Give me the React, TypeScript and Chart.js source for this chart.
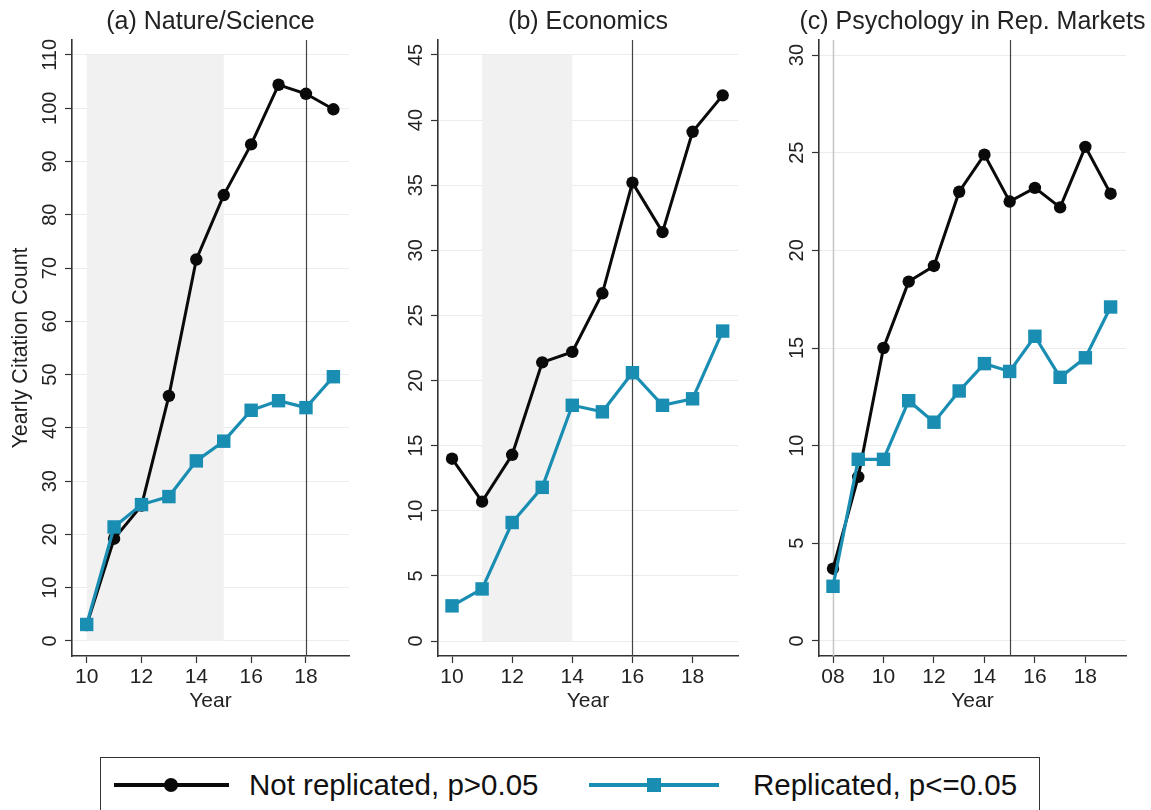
import React, { useEffect, useRef } from "react";
import { Chart, registerables } from "chart.js";

Chart.register(...registerables);

const FONT = '"Liberation Sans", Arial, Helvetica, sans-serif';
const BLACK = "#0a0a0a";
const BLUE = "#1a8db3";

// ---- Panel (a) Nature/Science ----
const yearsA = [10, 11, 12, 13, 14, 15, 16, 17, 18, 19];
const notRepA = [3.0, 19.2, 25.4, 46.0, 71.6, 83.7, 93.2, 104.4, 102.7, 99.8];
const repA = [3.1, 21.4, 25.6, 27.1, 33.8, 37.5, 43.3, 45.1, 43.8, 49.6];
const yTicksA = [0, 10, 20, 30, 40, 50, 60, 70, 80, 90, 100, 110];
const xTicksA = [10, 12, 14, 16, 18];
const xLabelsA = ["10", "12", "14", "16", "18"];

// ---- Panel (b) Economics ----
const yearsB = [10, 11, 12, 13, 14, 15, 16, 17, 18, 19];
const notRepB = [14.0, 10.7, 14.3, 21.4, 22.2, 26.7, 35.2, 31.4, 39.1, 41.9];
const repB = [2.7, 4.0, 9.1, 11.8, 18.1, 17.6, 20.6, 18.1, 18.6, 23.8];
const yTicksB = [0, 5, 10, 15, 20, 25, 30, 35, 40, 45];
const xTicksB = [10, 12, 14, 16, 18];
const xLabelsB = ["10", "12", "14", "16", "18"];

// ---- Panel (c) Psychology in Rep. Markets ----
const yearsC = [8, 9, 10, 11, 12, 13, 14, 15, 16, 17, 18, 19];
const notRepC = [3.7, 8.4, 15.0, 18.4, 19.2, 23.0, 24.9, 22.5, 23.2, 22.2, 25.3, 22.9];
const repC = [2.8, 9.3, 9.3, 12.3, 11.2, 12.8, 14.2, 13.8, 15.6, 13.5, 14.5, 17.1];
const yTicksC = [0, 5, 10, 15, 20, 25, 30];
const xTicksC = [8, 10, 12, 14, 16, 18];
const xLabelsC = ["08", "10", "12", "14", "16", "18"];

const seriesNames = ["Not replicated, p>0.05", "Replicated, p<=0.05"];

type PanelProps = {
  title: string;
  years: number[];
  notRep: number[];
  rep: number[];
  yTicks: number[];
  xTicks: number[];
  xLabels: string[];
  xMin: number;
  xMax: number;
  yMin: number;
  yMax: number;
  shade: [number, number] | null;
  vlines: { x: number; color: string; width: number }[];
  yTitle: string | null;
  left: number;
  width: number;
  axisW: number;
  padRight: number;
};

const CANVAS_H = 730;

function Panel(p: PanelProps) {
  const ref = useRef<HTMLCanvasElement | null>(null);
  useEffect(() => {
    if (!ref.current) return;
    const overlay = {
      id: "overlay",
      beforeDatasetsDraw(chart: any) {
        const { ctx, chartArea, scales } = chart;
        const xs = scales.x;
        const ys = scales.y;
        ctx.save();
        if (p.shade) {
          const x0 = xs.getPixelForValue(p.shade[0]);
          const x1 = xs.getPixelForValue(p.shade[1]);
          const yTop = ys.getPixelForValue(p.yTicks[p.yTicks.length - 1]);
          const yBot = ys.getPixelForValue(0);
          ctx.fillStyle = "#f1f1f1";
          ctx.fillRect(x0, yTop, x1 - x0, yBot - yTop);
        }
        for (const v of p.vlines) {
          const px = Math.round(xs.getPixelForValue(v.x)) + 0.5;
          ctx.strokeStyle = v.color;
          ctx.lineWidth = v.width;
          ctx.beginPath();
          ctx.moveTo(px, chartArea.top);
          ctx.lineTo(px, chartArea.bottom);
          ctx.stroke();
        }
        ctx.restore();
      },
      afterDraw(chart: any) {
        const { ctx, chartArea, scales } = chart;
        const ys = scales.y;
        const cx = (chartArea.left + chartArea.right) / 2;
        ctx.save();
        ctx.fillStyle = "#222";
        ctx.font = `25px ${FONT}`;
        ctx.textAlign = "center";
        ctx.textBaseline = "middle";
        ctx.fillText(p.title, cx, 22);
        ctx.font = `20px ${FONT}`;
        for (const v of p.yTicks) {
          const py = ys.getPixelForValue(v);
          ctx.save();
          ctx.translate(chartArea.left - 16.5, py);
          ctx.rotate(-Math.PI / 2);
          ctx.textAlign = "center";
          ctx.textBaseline = "alphabetic";
          ctx.fillText(String(v), 0, 0);
          ctx.restore();
        }
        ctx.font = `21px ${FONT}`;
        ctx.textAlign = "center";
        ctx.textBaseline = "alphabetic";
        ctx.fillText("Year", cx, 707);
        if (p.yTitle) {
          ctx.save();
          ctx.translate(21, (chartArea.top + chartArea.bottom) / 2);
          ctx.rotate(-Math.PI / 2);
          ctx.font = `21.5px ${FONT}`;
          ctx.textAlign = "center";
          ctx.textBaseline = "middle";
          ctx.fillText(p.yTitle, 0, 0);
          ctx.restore();
        }
        ctx.restore();
      },
    };

    const chart = new Chart(ref.current, {
      type: "line",
      data: {
        datasets: [
          {
            label: seriesNames[0],
            data: p.years.map((x, i) => ({ x, y: p.notRep[i] })),
            borderColor: BLACK,
            backgroundColor: BLACK,
            borderWidth: 3,
            pointStyle: "circle",
            pointRadius: 6.2,
            pointBorderWidth: 0,
            order: 2,
          },
          {
            label: seriesNames[1],
            data: p.years.map((x, i) => ({ x, y: p.rep[i] })),
            borderColor: BLUE,
            backgroundColor: BLUE,
            borderWidth: 3.2,
            pointStyle: "rect",
            pointRadius: 9.5,
            pointBorderWidth: 0,
            order: 1,
          },
        ],
      },
      options: {
        responsive: false,
        animation: false,
        devicePixelRatio: 1,
        layout: { padding: { top: 40, right: p.padRight, left: 0, bottom: 0 } },
        plugins: { legend: { display: false }, tooltip: { enabled: false }, title: { display: false } },
        elements: { line: { tension: 0 } },
        scales: {
          x: {
            type: "linear",
            min: p.xMin,
            max: p.xMax,
            afterBuildTicks: (s: any) => {
              s.ticks = p.xTicks.map((v) => ({ value: v }));
            },
            afterFit: (s: any) => {
              s.height = CANVAS_H - 656;
            },
            ticks: {
              autoSkip: false,
              maxRotation: 0,
              minRotation: 0,
              padding: 2,
              color: "#222",
              font: { family: FONT, size: 21 },
              callback: (v: any) => {
                const i = p.xTicks.indexOf(Number(v));
                return i >= 0 ? p.xLabels[i] : "";
              },
            },
            grid: {
              display: true,
              drawOnChartArea: false,
              drawTicks: true,
              tickLength: 7,
              tickColor: "#333",
              tickWidth: 1.2,
            },
            border: { display: true, color: "#333", width: 1.6 },
          },
          y: {
            type: "linear",
            min: p.yMin,
            max: p.yMax,
            afterBuildTicks: (s: any) => {
              s.ticks = p.yTicks.map((v) => ({ value: v }));
            },
            afterFit: (s: any) => {
              s.width = p.axisW;
            },
            ticks: { display: false },
            grid: {
              display: true,
              drawOnChartArea: true,
              drawTicks: true,
              tickLength: 7,
              color: "#ececec",
              lineWidth: 1,
              tickColor: "#333",
              tickWidth: 1.2,
            },
            border: { display: true, color: "#333", width: 1.6 },
          },
        },
      },
      plugins: [overlay],
    } as any);
    return () => chart.destroy();
  }, []);
  return (
    <canvas
      ref={ref}
      width={p.width}
      height={CANVAS_H}
      style={{ position: "absolute", left: p.left, top: 0, width: p.width, height: CANVAS_H }}
    />
  );
}

export default function App() {
  const textStyle: React.CSSProperties = {
    position: "absolute",
    fontFamily: FONT,
    fontSize: 29.5,
    lineHeight: "32px",
    color: "#111",
    whiteSpace: "nowrap",
  };
  return (
    <div style={{ position: "absolute", left: 0, top: 0, width: 1151, height: 810, background: "#fff", overflow: "hidden" }}>
      <Panel
        title="(a) Nature/Science"
        years={yearsA}
        notRep={notRepA}
        rep={repA}
        yTicks={yTicksA}
        xTicks={xTicksA}
        xLabels={xLabelsA}
        xMin={9.464}
        xMax={19.57}
        yMin={-2.82}
        yMax={112.8}
        shade={[10, 15]}
        vlines={[{ x: 18, color: "#444", width: 1.2 }]}
        yTitle="Yearly Citation Count"
        left={0}
        width={360}
        axisW={72}
        padRight={11}
      />
      <Panel
        title="(b) Economics"
        years={yearsB}
        notRep={notRepB}
        rep={repB}
        yTicks={yTicksB}
        xTicks={xTicksB}
        xLabels={xLabelsB}
        xMin={9.534}
        xMax={19.51}
        yMin={-1.15}
        yMax={46.15}
        shade={[11, 14]}
        vlines={[{ x: 16, color: "#444", width: 1.2 }]}
        yTitle={null}
        left={380}
        width={370}
        axisW={58}
        padRight={12}
      />
      <Panel
        title="(c) Psychology in Rep. Markets"
        years={yearsC}
        notRep={notRepC}
        rep={repC}
        yTicks={yTicksC}
        xTicks={xTicksC}
        xLabels={xLabelsC}
        xMin={7.445}
        xMax={19.61}
        yMin={-0.77}
        yMax={30.77}
        shade={null}
        vlines={[
          { x: 8, color: "#c8c8c8", width: 1.6 },
          { x: 15, color: "#444", width: 1.2 },
        ]}
        yTitle={null}
        left={760}
        width={391}
        axisW={59}
        padRight={25}
      />
      <div
        style={{
          position: "absolute",
          left: 100,
          top: 757,
          width: 940,
          height: 70,
          border: "1.5px solid #333",
          boxSizing: "border-box",
          background: "#fff",
        }}
      >
        <div style={{ position: "absolute", left: 13, top: 25, width: 115, height: 4, background: BLACK }} />
        <div style={{ position: "absolute", left: 63, top: 20, width: 14, height: 14, borderRadius: 7, background: BLACK }} />
        <div style={{ ...textStyle, left: 148, top: 11 }}>{seriesNames[0]}</div>
        <div style={{ position: "absolute", left: 488, top: 25, width: 130, height: 4, background: BLUE }} />
        <div style={{ position: "absolute", left: 546, top: 20, width: 14, height: 14, background: BLUE }} />
        <div style={{ ...textStyle, left: 652, top: 11 }}>{seriesNames[1]}</div>
      </div>
    </div>
  );
}
